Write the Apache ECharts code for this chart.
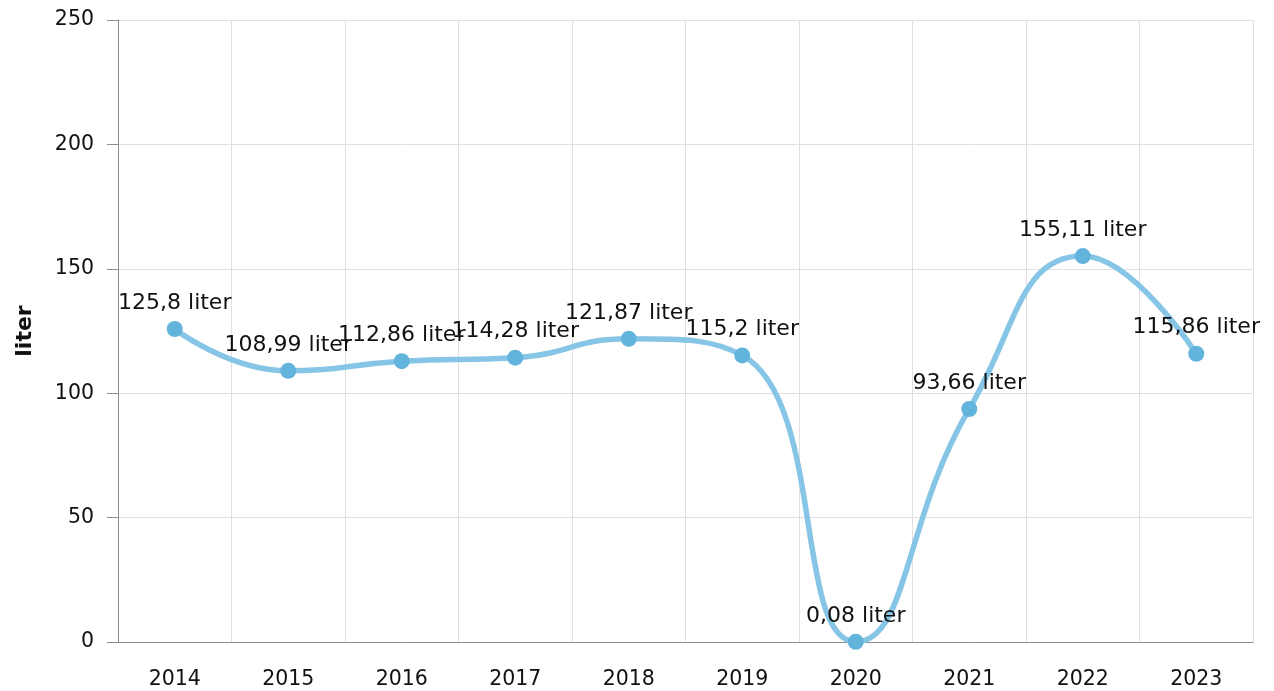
<!DOCTYPE html>
<html>
<head>
<meta charset="utf-8">
<script src="https://cdn.jsdelivr.net/npm/echarts@6/dist/echarts.min.js"></script>
<style>
  html, body { margin: 0; padding: 0; background: #fff; }
  #chart { width: 1274px; height: 691px; }
</style>
</head>
<body>
<div id="chart"></div>
<script>
// years on the x axis
let years = ['2014', '2015', '2016', '2017', '2018', '2019', '2020', '2021', '2022', '2023']
// litres per year
let liters = [125.8, 108.99, 112.86, 114.28, 121.87, 115.2, 0.08, 93.66, 155.11, 115.86]

let myChart = echarts.init(document.getElementById('chart'))

let font = 'DejaVu Sans, Verdana, sans-serif'

let option = {
    animation: false,
    textStyle: { fontFamily: font },
    grid: {
        left: 118,
        right: 21,
        top: 20,
        bottom: 49,
        containLabel: false
    },
    xAxis: {
        type: 'category',
        data: years,
        boundaryGap: true,
        axisLine: { lineStyle: { color: '#8c8c8c', width: 1 } },
        axisTick: { alignWithLabel: true, length: 8, lineStyle: { color: '#8c8c8c' } },
        axisLabel: { color: '#111', fontSize: 20.5, margin: 27, fontFamily: font },
        splitLine: { show: true, lineStyle: { color: '#e0e0e0', width: 1 } }
    },
    yAxis: {
        type: 'value',
        min: 0,
        max: 250,
        interval: 50,
        name: 'liter',
        nameLocation: 'middle',
        nameGap: 82,
        nameTextStyle: { fontWeight: 'bold', fontSize: 22, color: '#111', fontFamily: font },
        axisLine: { show: true, lineStyle: { color: '#8c8c8c', width: 1 } },
        axisTick: { show: true, length: 11, lineStyle: { color: '#8c8c8c' } },
        axisLabel: { color: '#111', fontSize: 20.5, margin: 24, fontFamily: font },
        splitLine: { show: true, lineStyle: { color: '#e0e0e0', width: 1 } }
    },
    series: [
        {
            name: 'liter',
            type: 'line',
            data: liters,
            smooth: 0.5,
            symbol: 'circle',
            symbolSize: 16,
            lineStyle: { color: '#86c5e5', width: 5.5 },
            itemStyle: { color: '#62b4dc' },
            label: {
                show: true,
                position: 'top',
                distance: 7,
                color: '#111',
                fontSize: 22,
                fontFamily: font,
                formatter: function (p) {
                    return String(p.value).replace('.', ',') + ' liter'
                }
            }
        }
    ]
}

myChart.setOption(option)
</script>
</body>
</html>
